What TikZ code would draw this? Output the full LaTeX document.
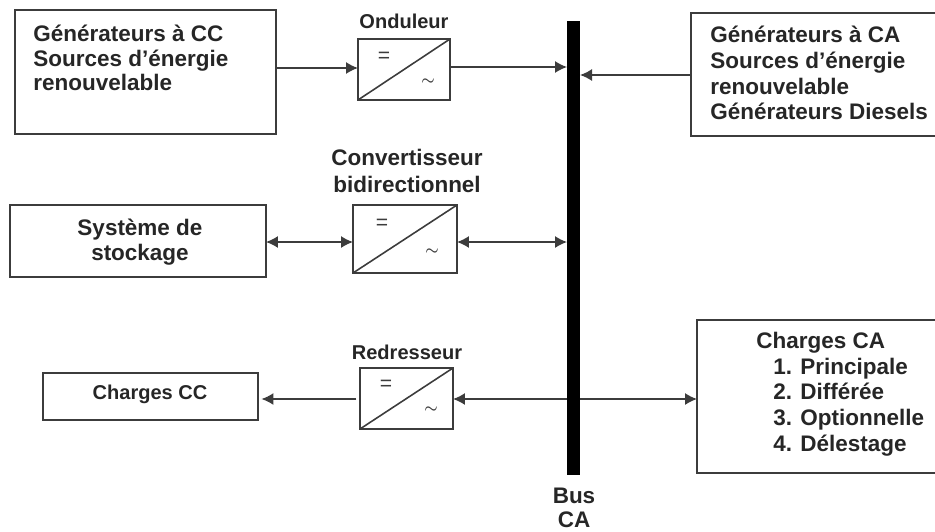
\documentclass[tikz,border=0pt]{standalone}
\usepackage{fontspec}
\setmainfont{Liberation Sans}
\usetikzlibrary{arrows.meta}
\definecolor{cEdge}{RGB}{60,60,60}
\tikzset{
  box/.style={
    rectangle, draw=cEdge, line width=0.9pt, anchor=north west, inner sep=0pt, outer sep=0pt,
  },
  txt/.style={font=\fontsize{12.8pt}{14.6pt}\selectfont\bfseries, align=left, text=black!85, inner sep=0pt},
  txtn/.style={txt, font=\fontsize{12.8pt}{13.9pt}\selectfont\bfseries},
  txts/.style={txt, font=\fontsize{11.4pt}{13pt}\selectfont\bfseries},
  conv/.style={
    box,
    path picture={\draw[line width=0.9pt, draw=cEdge] (path picture bounding box.south west) -- (path picture bounding box.north east);},
  },
  sym/.style={font=\fontsize{12pt}{12pt}\selectfont, inner sep=0pt, text=cEdge},
  symb/.style={font=\fontsize{8pt}{8pt}\selectfont\boldmath, inner sep=0pt, text=cEdge},
  arr/.style={-{Latex[length=2.4mm,width=2.4mm]}, line width=0.8pt, draw=cEdge},
  arrd/.style={{Latex[length=2.4mm,width=2.4mm]}-{Latex[length=2.4mm,width=2.4mm]}, line width=0.8pt, draw=cEdge},
}
\begin{document}
\begin{tikzpicture}[x=0.02cm,y=-0.02cm]
\useasboundingbox (0,0) rectangle (935,531);

% ===== bus =====
\node[box, fill=black, draw=none, minimum width=0.26cm, minimum height=9.08cm] (bus) at (567,21) {};
\node[txtn, align=center] (buslab) at (574,508) {Bus\\CA};

% ===== left column =====
\node[box, minimum width=5.22cm, minimum height=2.48cm] (gencc) at (15,10) {};
\node[txtn, anchor=north west] (genccT) at (33,25) {Générateurs à CC\\Sources d’énergie\\renouvelable};
\node[box, minimum width=5.12cm, minimum height=1.44cm] (stock) at (10,205) {};
\node[txt, align=center] (stockT) at (140,242) {Système de\\stockage};
\node[box, minimum width=4.3cm, minimum height=0.94cm] (chcc) at (43,373) {};
\node[txts] (chccT) at (150,394) {Charges CC};

% ===== converters =====
\node[conv, minimum width=1.84cm, minimum height=1.22cm] (ond) at (358,39) {};
\node[txts] (ondT) at (404,21) {Onduleur};
\node[sym] (ondA) at (384,57) {=};
\node[symb] (ondB) at (428,82) {$\sim$};

\node[conv, minimum width=2.08cm, minimum height=1.36cm] (bid) at (353,205) {};
\node[txt, font=\fontsize{12.8pt}{15.4pt}\selectfont\bfseries, align=center] (bidT) at (407,171) {Convertisseur\\bidirectionnel};
\node[sym] (bidA) at (382,224) {=};
\node[symb] (bidB) at (432,252) {$\sim$};

\node[conv, minimum width=1.86cm, minimum height=1.22cm] (red) at (360,368) {};
\node[txts] (redT) at (407,352) {Redresseur};
\node[sym] (redA) at (386,385) {=};
\node[symb] (redB) at (431,410) {$\sim$};

% ===== right column =====
\node[box, minimum width=4.94cm, minimum height=2.46cm] (genca) at (691,13) {};
\node[txt, anchor=north west] (gencaT) at (710,26) {Générateurs à CA\\Sources d’énergie\\renouvelable\\Générateurs Diesels};
\node[box, minimum width=4.84cm, minimum height=3.06cm] (chca) at (697,320) {};
\node[txt, anchor=north west] (chcaT) at (756,332) {Charges CA\\\hspace*{9.7pt}1. Principale\\\hspace*{9.7pt}2. Différée\\\hspace*{9.7pt}3. Optionnelle\\\hspace*{9.7pt}4. Délestage};

% ===== arrows =====
\draw[arr] (gencc.east |- 0,68) -- (ond.west |- 0,68);
\draw[arr] (ond.east |- 0,67) -- (bus.west |- 0,67);
\draw[arr] (genca.west |- 0,75) -- (bus.east |- 0,75);
\draw[arrd] (stock.east |- 0,242) -- (bid.west |- 0,242);
\draw[arrd] (bid.east |- 0,242) -- (bus.west |- 0,242);
\draw[arr] (bus.west |- 0,399) -- (red.east |- 0,399);
\draw[arr] (bus.east |- 0,399) -- (chca.west |- 0,399);
\draw[arr, shorten >=2pt, shorten <=2pt] (red.west |- 0,399) -- (chcc.east |- 0,399);

\end{tikzpicture}
\end{document}
